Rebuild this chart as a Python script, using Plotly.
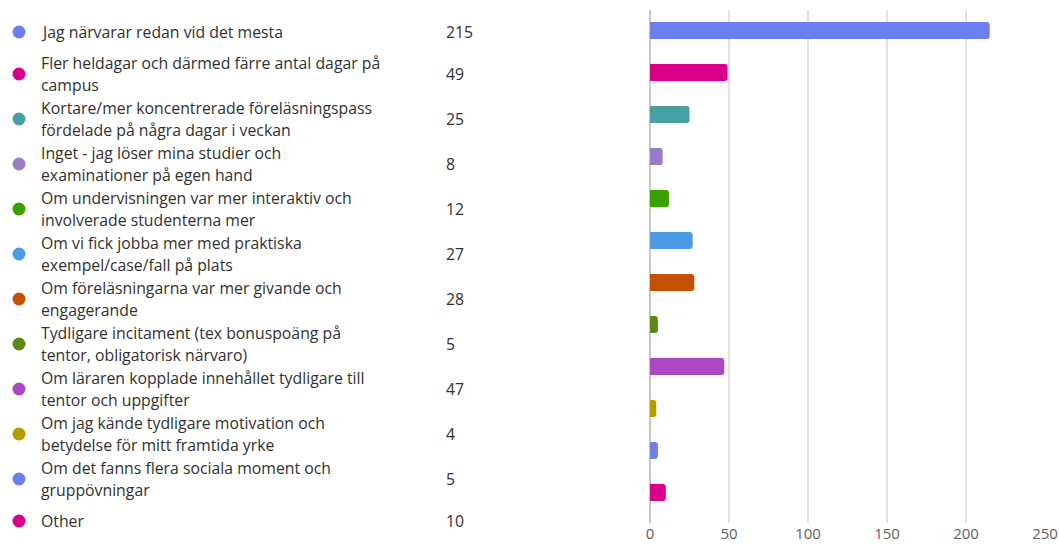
import plotly.graph_objects as go

OFF = 0
W, H = 1059, 544

labels = [
    ["Jag närvarar redan vid det mesta"],
    ["Fler heldagar och därmed färre antal dagar på", "campus"],
    ["Kortare/mer koncentrerade föreläsningspass", "fördelade på några dagar i veckan"],
    ["Inget - jag löser mina studier och", "examinationer på egen hand"],
    ["Om undervisningen var mer interaktiv och", "involverade studenterna mer"],
    ["Om vi fick jobba mer med praktiska", "exempel/case/fall på plats"],
    ["Om föreläsningarna var mer givande och", "engagerande"],
    ["Tydligare incitament (tex bonuspoäng på", "tentor, obligatorisk närvaro)"],
    ["Om läraren kopplade innehållet tydligare till", "tentor och uppgifter"],
    ["Om jag kände tydligare motivation och", "betydelse för mitt framtida yrke"],
    ["Om det fanns flera sociala moment och", "gruppövningar"],
    ["Other"],
]
counts = [215, 49, 25, 8, 12, 27, 28, 5, 47, 4, 5, 10]
colors = ["#6B7FF0", "#DA008A", "#47A0A4", "#9A7BC6", "#38A100", "#4C9BE6",
          "#C55000", "#5A8A14", "#AC48C4", "#B89B00", "#6B7FF0", "#DA008A"]
x_ticks = [0, 50, 100, 150, 200, 250]

cats = list(range(len(counts)))
FONT = "Open Sans"
TEXT_COLOR = "#323130"
FS = 15.8


def px(x):
    return x - OFF


fig = go.Figure()
fig.add_trace(go.Bar(
    x=counts, y=cats, orientation="h",
    marker=dict(color=colors, cornerradius=3, line=dict(width=0)),
    width=0.41, hoverinfo="x", showlegend=False,
))

# legend positions (pixel layout, reference coordinates)
centers = []
top = 12.5
for lab in labels:
    h = 39 if len(lab) == 1 else 45
    centers.append(top + h / 2)
    top += h

fig.add_trace(go.Scatter(
    x=[px(19)] * len(centers), y=[px(c) for c in centers], mode="markers",
    marker=dict(color=colors, size=13, line=dict(width=0)),
    xaxis="x2", yaxis="y2", showlegend=False, hoverinfo="skip",
))

annotations = []
LINE = 21.5
for lab, c, n in zip(labels, centers, counts):
    k = len(lab)
    for j, line in enumerate(lab):
        y = c + (j - (k - 1) / 2) * LINE
        annotations.append(dict(
            x=px(39), y=px(y), xref="x2", yref="y2", text=line, showarrow=False,
            xanchor="left", yanchor="middle",
            font=dict(family=FONT, size=FS, color=TEXT_COLOR),
        ))
    annotations.append(dict(
        x=px(444), y=px(c), xref="x2", yref="y2", text=str(n), showarrow=False,
        xanchor="left", yanchor="middle",
        font=dict(family=FONT, size=FS, color=TEXT_COLOR),
    ))

Y_TOP, Y_BOT = 9.5, 523
PER_CAT = 42
y_lo = -0.5
y_hi = y_lo + (Y_BOT - Y_TOP) / PER_CAT

fig.update_layout(
    width=W, height=H,
    margin=dict(l=0, r=0, t=0, b=0),
    paper_bgcolor="white", plot_bgcolor="rgba(0,0,0,0)",
    xaxis=dict(
        domain=[px(650) / W, px(1045) / W], range=[0, 250],
        tickvals=x_ticks, showgrid=True, gridcolor="#E3E3E3", gridwidth=1.5,
        zeroline=True, zerolinecolor="#C8C8C8", zerolinewidth=1.5,
        showline=False, ticks="", automargin=False,
        tickfont=dict(family=FONT, size=15, color="#605E5C"),
    ),
    yaxis=dict(
        domain=[1 - px(Y_BOT) / H, 1 - px(Y_TOP) / H],
        range=[y_hi, y_lo],
        showticklabels=False, showgrid=False, zeroline=False, ticks="",
        automargin=False,
    ),
    xaxis2=dict(domain=[0, 1], range=[0, W], visible=False, fixedrange=True,
                anchor="y2"),
    yaxis2=dict(domain=[0, 1], range=[H, 0], visible=False, fixedrange=True,
                anchor="x2"),
    annotations=annotations,
)

fig.write_html("out.html", config={"displayModeBar": False},
               post_script="document.body.style.margin='0';")
